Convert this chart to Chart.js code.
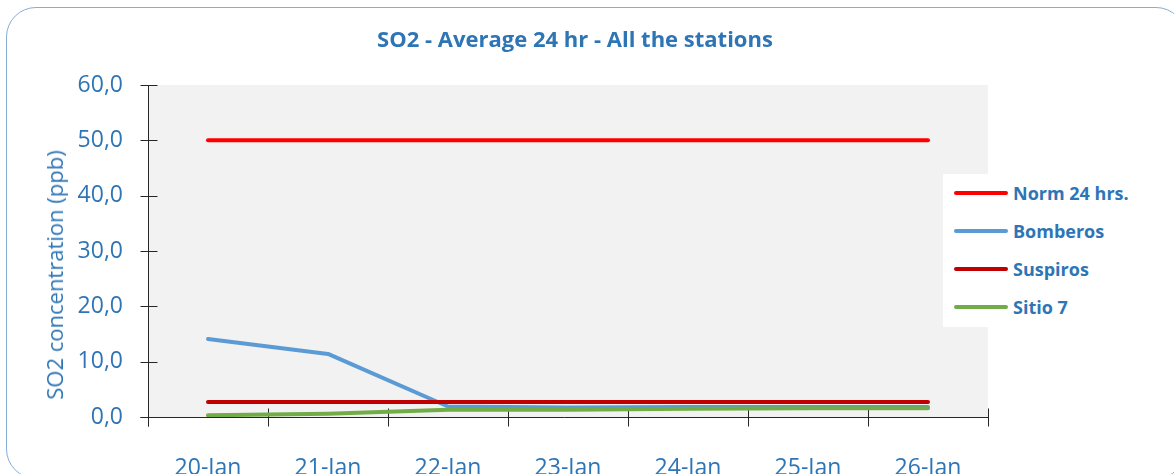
<!DOCTYPE html>
<html>
<head>
<meta charset="utf-8">
<script src="https://cdn.jsdelivr.net/npm/chart.js@4.4.1/dist/chart.umd.min.js"></script>
<style>
  html, body { margin: 0; padding: 0; background: #fff; overflow: hidden; }
  #wrap { position: relative; width: 1174px; height: 474px; overflow: hidden; font-family: 'Open Sans', sans-serif; }
  #frame {
    position: absolute; left: 6px; top: 7px; width: 1180px; height: 472px;
    border: 1.5px solid #86acd8; border-radius: 30px; box-sizing: border-box;
  }
  #c { position: absolute; left: 0; top: 0; }
  .title {
    position: absolute; left: 325px; width: 500px; top: 24px; text-align: center;
    font-weight: 700; font-size: 22px; color: #2e75b6; white-space: nowrap; line-height: 28px;
  }
  .ytitle {
    position: absolute; left: 54px; top: 275px; transform: translate(-50%, -50%) rotate(-90deg);
    font-size: 22px; color: #2e75b6; white-space: nowrap; line-height: 26px;
  }
  #legend {
    position: absolute; left: 943px; top: 174px; width: 210px; height: 153px; background: #fff;
  }
  #legend .item { position: absolute; left: 11px; height: 26px; display: flex; align-items: center; }
  #legend .swatch { width: 54px; height: 4px; border-radius: 2px; margin-right: 5px; }
  #legend .lbl { font-weight: 700; font-size: 18px; color: #2e75b6; white-space: nowrap; }
</style>
</head>
<body>
<div id="wrap">
  <div id="frame"></div>
  <canvas id="c" width="1174" height="474"></canvas>
  <div class="title">SO2 - Average 24 hr - All the stations</div>
  <div class="ytitle">SO2 concentration (ppb)</div>
  <div id="legend"></div>
</div>
<script>
const days = ['20-Jan', '21-Jan', '22-Jan', '23-Jan', '24-Jan', '25-Jan', '26-Jan'];
const norm24 = [50, 50, 50, 50, 50, 50, 50];
const bomberos = [14.1, 11.4, 1.9, 1.7, 1.8, 1.8, 1.8];
const suspiros = [2.7, 2.7, 2.7, 2.7, 2.7, 2.7, 2.7];
const sitio7 = [0.3, 0.6, 1.3, 1.3, 1.5, 1.6, 1.6];
const yTicks = [0, 10, 20, 30, 40, 50, 60];

const series = [
  { label: 'Norm 24 hrs.', data: norm24, color: '#ff0000' },
  { label: 'Bomberos', data: bomberos, color: '#5b9bd5' },
  { label: 'Suspiros', data: suspiros, color: '#c00000' },
  { label: 'Sitio 7', data: sitio7, color: '#70ad47' },
];

const txt = '#2e75b6';
const font = { family: "'Open Sans', sans-serif", size: 23 };

// grey plot background
const plotBg = {
  id: 'plotBg',
  beforeDraw(chart) {
    const { ctx, chartArea: a } = chart;
    ctx.save();
    ctx.fillStyle = '#f2f2f2';
    ctx.fillRect(a.left, a.top, a.right - a.left, a.bottom - a.top);
    ctx.restore();
  }
};

// excel style axes, tick marks cross the axis line
const axes = {
  id: 'axes',
  beforeDatasetsDraw(chart) {
    const { ctx, chartArea: a, scales: { x, y } } = chart;
    ctx.save();
    ctx.strokeStyle = '#262626';
    ctx.lineWidth = 1;
    ctx.beginPath();
    const ax = Math.round(a.left) + 0.5, ay = Math.round(a.bottom) + 0.5;
    ctx.moveTo(ax, a.top); ctx.lineTo(ax, ay + 9);
    ctx.moveTo(ax - 8, ay); ctx.lineTo(a.right, ay);
    yTicks.forEach(v => {
      const py = Math.round(y.getPixelForValue(v)) + 0.5;
      ctx.moveTo(ax - 8, py); ctx.lineTo(ax + 9, py);
    });
    for (let i = 0; i <= days.length; i++) {
      const px = Math.round(x.getPixelForValue(i - 0.5)) + 0.5;
      ctx.moveTo(px, ay - 9); ctx.lineTo(px, ay + 9);
    }
    ctx.stroke();
    ctx.restore();
  }
};

new Chart(document.getElementById('c'), {
  type: 'line',
  data: {
    labels: days,
    datasets: series.map((s, i) => ({
      label: s.label, data: s.data, borderColor: s.color, backgroundColor: s.color,
      borderWidth: 4, borderCapStyle: 'round', borderJoinStyle: 'round',
      pointRadius: 0, tension: 0, order: series.length - i
    }))
  },
  options: {
    responsive: false, animation: false, devicePixelRatio: 1,
    layout: { padding: { top: 85, right: 186, left: 0, bottom: 0 } },
    plugins: { legend: { display: false }, tooltip: { enabled: false } },
    scales: {
      x: {
        offset: true,
        grid: { display: false, drawTicks: false }, border: { display: false },
        ticks: { font, color: txt, padding: 38, maxRotation: 0, autoSkip: false },
        afterFit: s => { s.height = 57; }
      },
      y: {
        min: 0, max: 60,
        grid: { display: false, drawTicks: false }, border: { display: false },
        afterBuildTicks: s => { s.ticks = yTicks.map(v => ({ value: v })); },
        ticks: { font, color: txt, padding: 25, callback: v => v.toFixed(1).replace('.', ',') },
        afterFit: s => { s.width = 148; }
      }
    }
  },
  plugins: [plotBg, axes]
});

const legend = document.getElementById('legend');
const rowY = [18.7, 56.7, 95, 133];
legend.innerHTML = series.map((s, i) => `
  <div class="item" style="top:${rowY[i] - 13}px">
    <div class="swatch" style="background:${s.color}"></div>
    <div class="lbl">${s.label}</div>
  </div>`).join('');
</script>
</body>
</html>
